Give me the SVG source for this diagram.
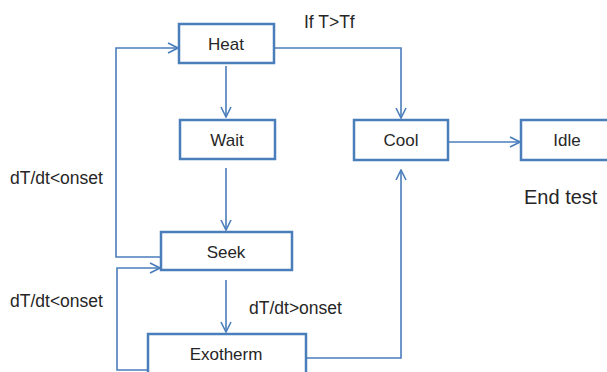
<svg xmlns="http://www.w3.org/2000/svg" width="607" height="372" viewBox="0 0 607 372">
<defs>
<marker id="arr" viewBox="0 0 12 12" refX="11" refY="6" markerWidth="12" markerHeight="12" markerUnits="userSpaceOnUse" orient="auto">
<path d="M1,1 L11,6 L1,11" fill="none" stroke="#4a7ebb" stroke-width="1.6"/>
</marker>
<style>
.box{fill:#fff;stroke:#4a7ebb;stroke-width:2.5}
.lbl{font-family:"Liberation Sans",Arial,sans-serif;font-size:17px;fill:#262626;text-anchor:middle}
.txt{font-family:"Liberation Sans",Arial,sans-serif;font-size:17.5px;fill:#262626}
.con{fill:none;stroke:#4a7ebb;stroke-width:1.6}
</style>
</defs>
<rect width="607" height="372" fill="#fff"/>
<g id="connectors">
<path class="con" d="M226,66 V117" marker-end="url(#arr)"/>
<path class="con" d="M274,48 H401 V118" marker-end="url(#arr)"/>
<path class="con" d="M161,257 H116 V48 H178" marker-end="url(#arr)"/>
<path class="con" d="M226,168 V230" marker-end="url(#arr)"/>
<path class="con" d="M148,370 H117 V268 H160" marker-end="url(#arr)"/>
<path class="con" d="M226,280 V332" marker-end="url(#arr)"/>
<path class="con" d="M306,358 H401 V170" marker-end="url(#arr)"/>
<path class="con" d="M448,142 H520" marker-end="url(#arr)"/>
</g>
<g id="heat"><rect class="box" x="179" y="24" width="95" height="39"/><text class="lbl" x="226" y="50">Heat</text></g>
<g id="wait"><rect class="box" x="180" y="120" width="95" height="39"/><text class="lbl" x="227" y="146">Wait</text></g>
<g id="cool"><rect class="box" x="354" y="120" width="94" height="40"/><text class="lbl" x="401" y="146">Cool</text></g>
<g id="idle"><rect class="box" x="521" y="120" width="100" height="40"/><text class="lbl" x="567" y="146">Idle</text></g>
<g id="seek"><rect class="box" x="161" y="232" width="131" height="38"/><text class="lbl" x="226" y="258">Seek</text></g>
<g id="exotherm"><rect class="box" x="148" y="334" width="158" height="50"/><text class="lbl" x="226" y="360">Exotherm</text></g>
<g id="labels">
<text class="txt" x="304" y="28">If T&gt;Tf</text>
<text class="txt" x="10" y="184">dT/dt&lt;onset</text>
<text class="txt" x="10" y="307">dT/dt&lt;onset</text>
<text class="txt" x="249" y="314">dT/dt&gt;onset</text>
<text class="txt" x="524" y="204" style="font-size:20px">End test</text>
</g>
</svg>
